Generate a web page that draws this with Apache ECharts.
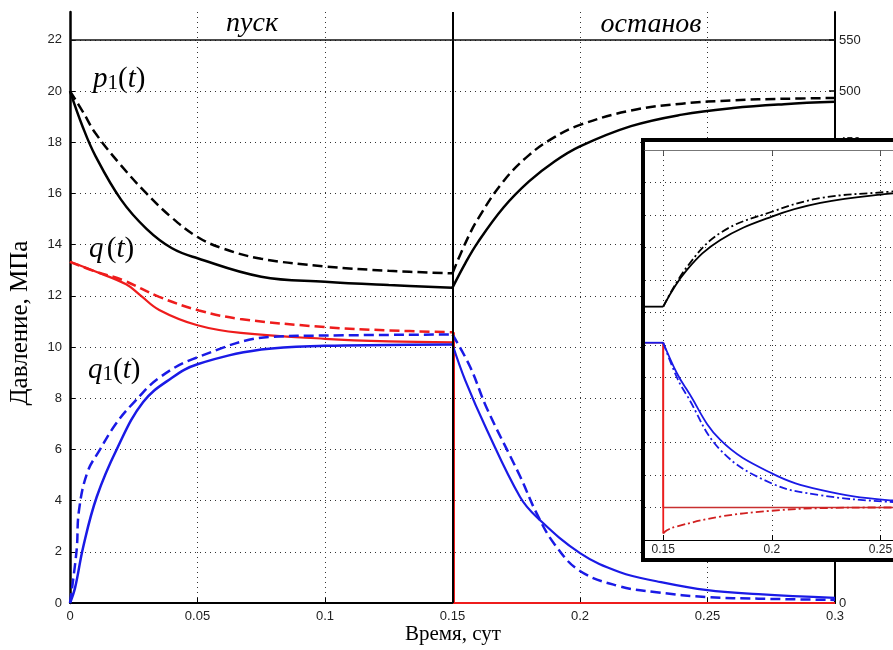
<!DOCTYPE html>
<html>
<head>
<meta charset="utf-8">
<script src="https://cdn.jsdelivr.net/npm/echarts@6/dist/echarts.min.js"></script>
<style>
  html, body { margin: 0; padding: 0; background: #fff; }
  #chart { width: 893px; height: 650px; }
</style>
</head>
<body>
<div id="chart"></div>
<script>
// пуск: 0 .. 0.15 сут
var tP1 = [0, 0.005, 0.01, 0.02, 0.03, 0.04, 0.05, 0.075, 0.1, 0.125, 0.15];
var p1Start = [20.0, 18.6, 17.46, 15.76, 14.62, 13.86, 13.47, 12.75, 12.55, 12.42, 12.32];
var tP1Dash = [0, 0.005, 0.01, 0.02, 0.03, 0.04, 0.05, 0.06, 0.075, 0.1, 0.125, 0.15];
var p1StartDash = [20.0, 19.2, 18.35, 17.1, 16.0, 15.05, 14.3, 13.85, 13.45, 13.15, 12.98, 12.88];

// останов: 0.15 .. 0.3 сут
var tP1Stop = [0.15, 0.155, 0.16, 0.17, 0.18, 0.19, 0.2, 0.22, 0.24, 0.26, 0.28, 0.3];
var p1Stop = [12.32, 13.27, 14.1, 15.45, 16.47, 17.25, 17.84, 18.63, 19.08, 19.34, 19.49, 19.58];
var p1StopDash = [12.88, 14.05, 15.01, 16.48, 17.5, 18.2, 18.68, 19.24, 19.51, 19.64, 19.7, 19.73];

// q(t)
var tQ = [0, 0.01, 0.022, 0.0275, 0.035, 0.05, 0.067, 0.1, 0.125, 0.15];
var qStart = [13.33, 12.95, 12.45, 12.03, 11.45, 10.85, 10.55, 10.32, 10.22, 10.18];
var tQDash = [0, 0.01, 0.0206, 0.035, 0.0506, 0.0667, 0.1, 0.125, 0.15];
var qStartDash = [13.33, 12.95, 12.62, 11.96, 11.43, 11.1, 10.78, 10.65, 10.58];
var tQDrop = [0.1505, 0.1505, 0.3];
var qDrop = [10.18, 0, 0];
var qDropDash = [10.58, 0, 0];

// q1(t)
var tQ1 = [0, 0.002, 0.0052, 0.0105, 0.0183, 0.0287, 0.04, 0.05, 0.075, 0.1, 0.125, 0.15];
var q1Start = [0, 0.6, 2.2, 4.15, 6.0, 7.85, 8.8, 9.33, 9.9, 10.05, 10.08, 10.1];
var tQ1Dash = [0, 0.0026, 0.0035, 0.0068, 0.0118, 0.018, 0.0247, 0.035, 0.05, 0.079, 0.1, 0.15];
var q1StartDash = [0, 2.07, 3.6, 5.1, 6.0, 7.0, 7.8, 8.8, 9.6, 10.4, 10.45, 10.49];
var tQ1Stop = [0.15, 0.155, 0.1635, 0.1765, 0.183, 0.2, 0.2157, 0.23, 0.25, 0.27, 0.3];
var q1Stop = [10.1, 8.7, 6.76, 4.14, 3.36, 1.95, 1.2, 0.85, 0.5, 0.35, 0.2];
var tQ1StopDash = [0.15, 0.1569, 0.1635, 0.1765, 0.183, 0.19, 0.2, 0.2157, 0.23, 0.25, 0.27, 0.3];
var q1StopDash = [10.49, 9.23, 7.6, 4.95, 3.5, 2.3, 1.25, 0.65, 0.42, 0.23, 0.17, 0.12];

// врезка (inset)
var tInFlat = [0.1416, 0.15];
var inP1Flat = [7.18, 7.18];
var inQ1Flat = [6.07, 6.07];
var tInP1 = [0.15, 0.1609, 0.1763, 0.2, 0.2224, 0.2531, 0.28, 0.3];
var inP1 = [7.18, 8.31, 9.23, 9.95, 10.37, 10.65, 10.8, 10.88];
var inP1Dash = [7.18, 8.4, 9.45, 10.1, 10.52, 10.71, 10.85, 10.9];
var tInQ = [0.1416, 0.15, 0.15, 0.3];
var inQ = [6.07, 6.07, 1.0, 1.0];
var tInQDrop = [0.15, 0.15];
var inQDrop = [6.07, 0.2];
var tInQDash = [0.15, 0.1517, 0.1563, 0.1763, 0.2, 0.2224, 0.2531, 0.3];
var inQDash = [0.2, 0.3, 0.42, 0.72, 0.9, 0.98, 1.0, 1.0];
var tInQ1 = [0.15, 0.1563, 0.1609, 0.1763, 0.2, 0.2224, 0.2531, 0.3];
var inQ1 = [6.07, 5.13, 4.62, 3.08, 2.05, 1.54, 1.23, 1.08];
var inQ1Dash = [6.07, 5.0, 4.45, 2.77, 1.74, 1.38, 1.18, 1.05];

var xTicks = [0, 0.05, 0.1, 0.15, 0.2, 0.25, 0.3];
var inXTicks = [0.15, 0.2, 0.25, 0.3];

var BLACK = "#000", RED = "#ee1c1c", BLUE = "#1a1ae6";
var DASH = [10, 5], DASHDOT = [8, 3, 2, 3];
var SANS = "Liberation Sans", SERIF = "Liberation Serif";

function pts(t, v) {
  return t.map(function (x, i) { return [x, v[i]]; });
}

function line(data, color, type, width, smooth, inset) {
  return {
    type: "line",
    data: data,
    xAxisIndex: inset ? 1 : 0,
    yAxisIndex: inset ? 2 : 0,
    showSymbol: false,
    smooth: smooth ? 0.4 : false,
    zlevel: inset ? 1 : 0,
    z: inset ? 5 : 2,
    lineStyle: { color: color, type: type, width: width },
    silent: true,
  };
}

var series = [
  line(pts(tP1, p1Start), BLACK, "solid", 2.5, true),
  line(pts(tP1Dash, p1StartDash), BLACK, DASH, 2.5, true),
  line(pts(tP1Stop, p1Stop), BLACK, "solid", 2.5, true),
  line(pts(tP1Stop, p1StopDash), BLACK, DASH, 2.5, true),
  line(pts(tQ, qStart), RED, "solid", 2.2, true),
  line(pts(tQDash, qStartDash), RED, DASH, 2.5, true),
  line(pts(tQDrop, qDropDash), RED, "solid", 2.2, false),
  line(pts(tQDrop, qDrop), RED, "solid", 2.2, false),
  line(pts(tQ1, q1Start), BLUE, "solid", 2.5, true),
  line(pts(tQ1Dash, q1StartDash), BLUE, DASH, 2.5, true),
  line(pts(tQ1Stop, q1Stop), BLUE, "solid", 2.2, true),
  line(pts(tQ1StopDash, q1StopDash), BLUE, DASH, 2.5, true),
  // inset
  line(pts(tInFlat, inP1Flat), BLACK, "solid", 1.8, false, true),
  line(pts(tInP1, inP1), BLACK, "solid", 1.8, true, true),
  line(pts(tInP1, inP1Dash), BLACK, DASHDOT, 1.8, true, true),
  line(pts(tInQ, inQ), "#c83030", "solid", 1.6, false, true),
  line(pts(tInQDrop, inQDrop), RED, "solid", 1.8, false, true),
  line(pts(tInQDash, inQDash), "#d02020", DASHDOT, 1.8, true, true),
  line(pts(tInFlat, inQ1Flat), BLUE, "solid", 1.8, false, true),
  line(pts(tInQ1, inQ1), BLUE, "solid", 1.8, true, true),
  line(pts(tInQ1, inQ1Dash), BLUE, DASHDOT, 1.8, true, true),
];

// вертикаль t = 0.15 и верхняя линия 22
series[0].markLine = {
  silent: true,
  symbol: "none",
  label: { show: false },
  data: [
    { xAxis: 0.15, lineStyle: { color: BLACK, type: "solid", width: 2 } },
    { yAxis: 22, lineStyle: { color: "#111", type: "solid", width: 1.5 } },
  ],
};

var tickLabel = { color: "#222", fontSize: 13, fontFamily: SANS };

var option = {
  animation: false,
  backgroundColor: "#fff",
  grid: [
    { left: 70, right: 58, top: 12, bottom: 47, outerBoundsMode: "none" },
    { left: 645, width: 344, top: 150, height: 390, zlevel: 1, z: 1, outerBoundsMode: "none", containLabel: false },
  ],
  xAxis: [
    {
      gridIndex: 0, type: "value", min: 0, max: 0.3, interval: 0.05,
      axisLine: { lineStyle: { color: BLACK, width: 2 } },
      axisTick: { inside: true, length: 5, lineStyle: { color: BLACK } },
      axisLabel: Object.assign({ margin: 7, customValues: xTicks }, tickLabel),
      splitLine: { lineStyle: { color: "#333", type: [1, 4] } },
    },
    {
      gridIndex: 1, type: "value", min: 0.1416, max: 0.3, zlevel: 1, z: 3,
      axisLine: { onZero: false, lineStyle: { color: BLACK, width: 1.2 } },
      axisTick: { inside: true, length: 5, customValues: inXTicks, lineStyle: { color: BLACK } },
      axisLabel: { customValues: inXTicks, color: "#222", fontSize: 12, fontFamily: SANS, margin: 4 },
      splitLine: { show: true, lineStyle: { color: "#333", type: [1, 4] } },
    },
    {
      gridIndex: 1, type: "value", min: 0.1416, max: 0.3, position: "top", zlevel: 1, z: 3,
      axisLine: { onZero: false, lineStyle: { color: "#777", width: 1.2 } },
      axisTick: { inside: true, length: 5, customValues: inXTicks, lineStyle: { color: "#555" } },
      axisLabel: { show: false },
      splitLine: { show: false },
    },
  ],
  yAxis: [
    {
      gridIndex: 0, type: "value", min: 0, max: 23.09, interval: 2,
      axisLine: { show: true, lineStyle: { color: BLACK, width: 2.5 } },
      axisTick: { inside: true, length: 5, lineStyle: { color: BLACK } },
      axisLabel: Object.assign({ margin: 8, showMaxLabel: false }, tickLabel),
      splitLine: { showMaxLine: false, lineStyle: { color: "#333", type: [1, 4] } },
    },
    {
      gridIndex: 0, type: "value", min: 0, max: 577.3, interval: 50, position: "right",
      axisLine: { show: true, lineStyle: { color: BLACK, width: 2 } },
      axisTick: { inside: true, length: 6, lineStyle: { color: BLACK, width: 1.5 } },
      axisLabel: Object.assign({ margin: 4, showMaxLabel: false }, tickLabel),
      splitLine: { show: false },
    },
    {
      gridIndex: 1, type: "value", min: 0, max: 12, interval: 1, zlevel: 1, z: 3,
      axisLine: { show: false },
      axisTick: { show: false },
      axisLabel: { show: false },
      splitLine: { lineStyle: { color: "#333", type: [1, 4] } },
    },
  ],
  graphic: [
    { type: "text", x: 252, y: 24, style: { text: "пуск", fontSize: 28, fontStyle: "italic", fontFamily: SERIF, fill: BLACK, align: "center", verticalAlign: "middle" } },
    { type: "text", x: 651, y: 25, style: { text: "останов", fontSize: 28, fontStyle: "italic", fontFamily: SERIF, fill: BLACK, align: "center", verticalAlign: "middle" } },
    { type: "text", x: 453, y: 634, style: { text: "Время, сут", fontSize: 21, fontFamily: SERIF, fill: BLACK, align: "center", verticalAlign: "middle" } },
    { type: "text", x: 20, y: 323, rotation: Math.PI / 2, style: { text: "Давление, МПа", fontSize: 25, fontFamily: SERIF, fill: BLACK, align: "center", verticalAlign: "middle" } },
    { type: "text", x: 93, y: 79, style: {
        text: "{i|p}{s|1}{n|(}{i|t}{n|)}", fill: BLACK, align: "left", verticalAlign: "middle",
        rich: {
          i: { fontSize: 29, fontStyle: "italic", fontFamily: SERIF },
          n: { fontSize: 29, fontFamily: SERIF },
          s: { fontSize: 21, fontFamily: SERIF, padding: [9, 0, 0, 0] },
        } } },
    { type: "text", x: 89, y: 249, style: {
        text: "{i|q} {n|(}{i|t}{n|)}", fill: BLACK, align: "left", verticalAlign: "middle",
        rich: {
          i: { fontSize: 29, fontStyle: "italic", fontFamily: SERIF },
          n: { fontSize: 29, fontFamily: SERIF },
        } } },
    { type: "text", x: 88, y: 370, style: {
        text: "{i|q}{s|1}{n|(}{i|t}{n|)}", fill: BLACK, align: "left", verticalAlign: "middle",
        rich: {
          i: { fontSize: 29, fontStyle: "italic", fontFamily: SERIF },
          n: { fontSize: 29, fontFamily: SERIF },
          s: { fontSize: 21, fontFamily: SERIF, padding: [9, 0, 0, 0] },
        } } },
    // рамка врезки
    { type: "rect", zlevel: 1, z: 0, shape: { x: 643, y: 140, width: 300, height: 420 },
      style: { fill: "#fff", stroke: BLACK, lineWidth: 4 } },
  ],
  series: series,
};

var myChart = echarts.init(document.getElementById("chart"));
option && myChart.setOption(option);
</script>
</body>
</html>
